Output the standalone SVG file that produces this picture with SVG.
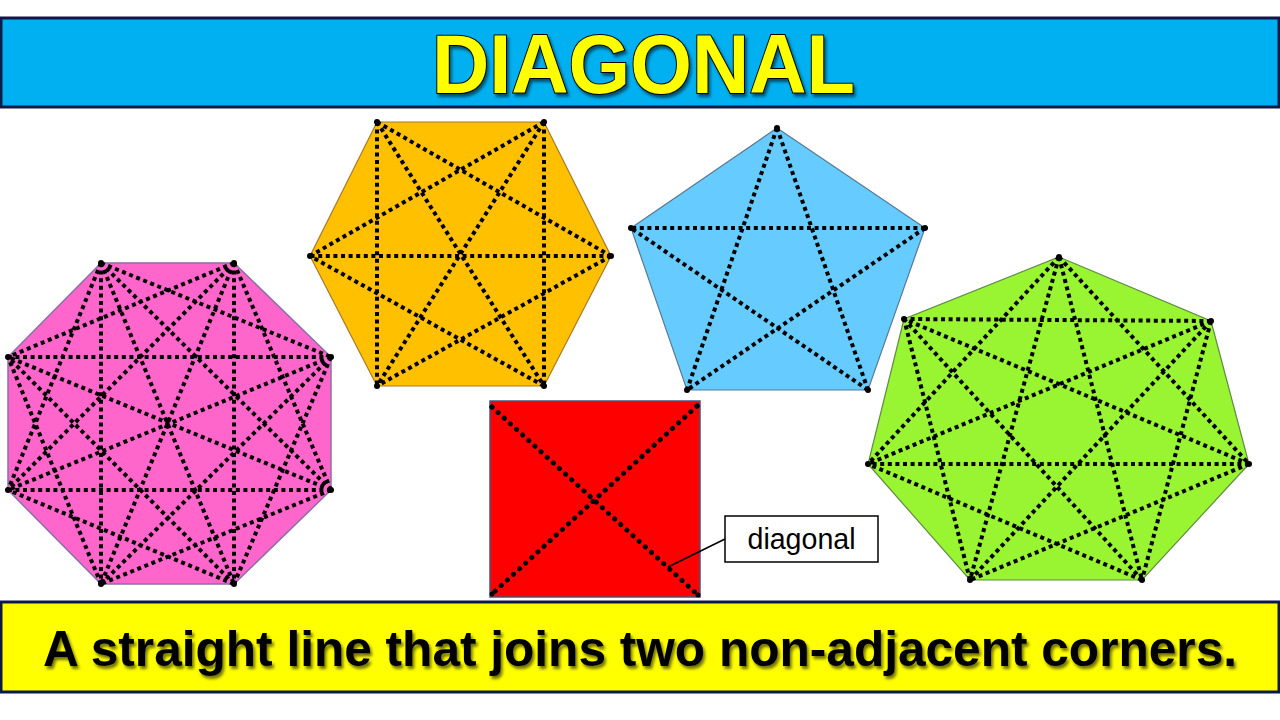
<svg xmlns="http://www.w3.org/2000/svg" width="1280" height="720" viewBox="0 0 1280 720">
<defs>
<style>
.diag{fill:none;stroke:#000;stroke-width:4;stroke-dasharray:4 3.6}
.sqd{fill:none;stroke:#000;stroke-width:5;stroke-linecap:round;stroke-dasharray:0.1 8.2}
.v{fill:#000}
.banner-title{font-family:"Liberation Sans",Arial,sans-serif;font-weight:bold;font-size:84px;fill:#FFFF00;stroke:#000;stroke-width:2;paint-order:stroke}
.banner-sub{font-family:"Liberation Sans",Arial,sans-serif;font-weight:bold;font-size:50px;fill:#000}
.label{font-family:"Liberation Sans",Arial,sans-serif;font-size:29px;fill:#000}
</style>
<filter id="shadow" x="-5%" y="-20%" width="110%" height="150%">
<feDropShadow dx="2" dy="3" stdDeviation="1.5" flood-color="#000" flood-opacity="0.55"/>
</filter>
</defs>
<rect width="1280" height="720" fill="#fff"/>

<g id="title-banner">
<rect x="1" y="18" width="1278" height="89" fill="#00B0F0" stroke="#0D1A45" stroke-width="3"/>
<text class="banner-title" x="643.5" y="93" text-anchor="middle" textLength="423" lengthAdjust="spacingAndGlyphs" filter="url(#shadow)">DIAGONAL</text>
</g>

<g id="octagon">
<polygon points="101,263 234,263 331,357 331,490 234,584 101,584 8,490 8,357" fill="#FF66CC" stroke="#8A6FA8" stroke-width="1.5"/>
<path class="diag" d="M101 263L331 357M101 263L331 490M101 263L234 584M101 263L101 584M101 263L8 490M234 263L331 490M234 263L234 584M234 263L101 584M234 263L8 490M234 263L8 357M331 357L234 584M331 357L101 584M331 357L8 490M331 357L8 357M331 490L101 584M331 490L8 490M331 490L8 357M234 584L8 490M234 584L8 357M101 584L8 357"/>
<g class="v"><circle cx="101" cy="263" r="3"/><circle cx="234" cy="263" r="3"/><circle cx="331" cy="357" r="3"/><circle cx="331" cy="490" r="3"/><circle cx="234" cy="584" r="3"/><circle cx="101" cy="584" r="3"/><circle cx="8" cy="490" r="3"/><circle cx="8" cy="357" r="3"/></g>
</g>

<g id="hexagon">
<polygon points="377,122 544,122 611,256 544,386 377,386 310,256" fill="#FFC000" stroke="#A8782A" stroke-width="1.2"/>
<path class="diag" d="M377 122L611 256M377 122L544 386M377 122L377 386M544 122L544 386M544 122L377 386M544 122L310 256M611 256L377 386M611 256L310 256M544 386L310 256"/>
<g class="v"><circle cx="377" cy="122" r="3"/><circle cx="544" cy="122" r="3"/><circle cx="611" cy="256" r="3"/><circle cx="544" cy="386" r="3"/><circle cx="377" cy="386" r="3"/><circle cx="310" cy="256" r="3"/></g>
</g>

<g id="pentagon">
<polygon points="777,128 925,228 868,390 687,390 631,228" fill="#66CCFF" stroke="#5A7894" stroke-width="1.2"/>
<path class="diag" d="M777 128L868 390M777 128L687 390M925 228L687 390M925 228L631 228M868 390L631 228"/>
<g class="v"><circle cx="777" cy="128" r="3"/><circle cx="925" cy="228" r="3"/><circle cx="868" cy="390" r="3"/><circle cx="687" cy="390" r="3"/><circle cx="631" cy="228" r="3"/></g>
</g>

<g id="heptagon">
<polygon points="1059,257 1211,321 1249,464 1142,580 970,580 868,464 904,319" fill="#99F531" stroke="#5F8A45" stroke-width="1.2"/>
<path class="diag" d="M1059 257L1249 464M1059 257L1142 580M1059 257L970 580M1059 257L868 464M1211 321L1142 580M1211 321L970 580M1211 321L868 464M1211 321L904 319M1249 464L970 580M1249 464L868 464M1249 464L904 319M1142 580L868 464M1142 580L904 319M970 580L904 319"/>
<g class="v"><circle cx="1059" cy="257" r="3"/><circle cx="1211" cy="321" r="3"/><circle cx="1249" cy="464" r="3"/><circle cx="1142" cy="580" r="3"/><circle cx="970" cy="580" r="3"/><circle cx="868" cy="464" r="3"/><circle cx="904" cy="319" r="3"/></g>
</g>

<g id="square">
<rect x="490" y="401" width="210" height="196" fill="#FF0000" stroke="#44557F" stroke-width="1.5"/>
<path class="sqd" d="M492 407L698 595M697 406L492 594"/>
<g class="v"><circle cx="492" cy="407" r="2.5"/><circle cx="697" cy="406" r="2.5"/><circle cx="492" cy="594" r="2.5"/><circle cx="698" cy="595" r="2.5"/></g>
</g>

<g id="diagonal-label">
<rect x="725" y="516" width="153" height="46" fill="#fff" stroke="#000" stroke-width="1.5"/>
<text class="label" x="801.5" y="549" text-anchor="middle" textLength="108" lengthAdjust="spacingAndGlyphs">diagonal</text>
</g>

<g id="connectors">
<line x1="725" y1="539" x2="668" y2="567" stroke="#000" stroke-width="1.5"/>
</g>

<g id="definition-banner">
<rect x="1" y="602" width="1278" height="90" fill="#FFFF00" stroke="#0D1A45" stroke-width="3"/>
<text class="banner-sub" x="640" y="666" text-anchor="middle" textLength="1194" lengthAdjust="spacingAndGlyphs" filter="url(#shadow)">A straight line that joins two non-adjacent corners.</text>
</g>
</svg>
